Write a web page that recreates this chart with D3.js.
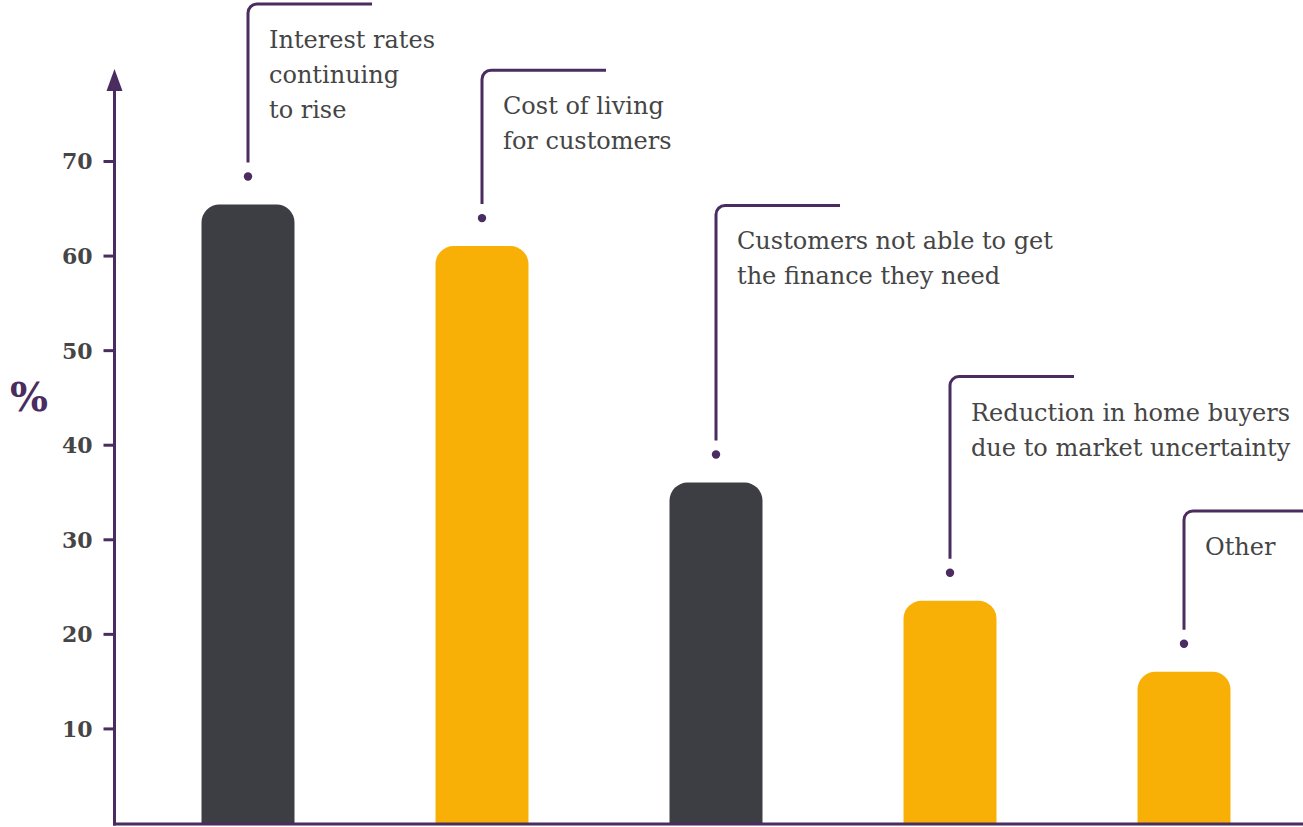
<!DOCTYPE html>
<html>
<head>
<meta charset="utf-8">
<script src="https://cdn.jsdelivr.net/npm/d3@7"></script>
<style>
  html, body { margin: 0; padding: 0; background: #ffffff; }
  svg { display: block; }
</style>
</head>
<body>
<svg id="chart" width="1303" height="827"></svg>
<script>
// Main concerns for the housing market (% of respondents)
const categories = [
  "Interest rates continuing to rise",
  "Cost of living for customers",
  "Customers not able to get the finance they need",
  "Reduction in home buyers due to market uncertainty",
  "Other"
];
const values = [65.4, 61, 36, 23.5, 16];
// Wrapped callout text for each bar
const labelLines = [
  ["Interest rates", "continuing", "to rise"],
  ["Cost of living", "for customers"],
  ["Customers not able to get", "the finance they need"],
  ["Reduction in home buyers", "due to market uncertainty"],
  ["Other"]
];
// Height (in % units) at which each callout's bracket turns right
const calloutLevels = [86.6, 79.6, 65.3, 47.2, 33.0];
const yTicks = [10, 20, 30, 40, 50, 60, 70];
const yLabel = "%";

const barColors = ["#3d3e43", "#f8b006", "#3d3e43", "#f8b006", "#f8b006"];
const purple = "#4a2c61";
const textColor = "#454545";

const W = 1303, H = 827;
const svg = d3.select("#chart");

const axisX = 114.5;
const baseY = 824;

const x = d3.scaleBand()
  .domain(categories)
  .range([131, 1301])
  .paddingInner(0.6026)
  .paddingOuter(0.3013);

const y = d3.scaleLinear()
  .domain([0, 70])
  .range([823, 161]);

// Bars with rounded tops
function topRoundedRect(x0, y0, w, h, r) {
  r = Math.min(r, w / 2, h);
  return `M${x0},${y0 + h}` +
    `V${y0 + r}` +
    `A${r},${r} 0 0 1 ${x0 + r},${y0}` +
    `H${x0 + w - r}` +
    `A${r},${r} 0 0 1 ${x0 + w},${y0 + r}` +
    `V${y0 + h}Z`;
}

svg.append("g").selectAll("path")
  .data(categories)
  .join("path")
  .attr("d", (c, i) => {
    const top = y(values[i]);
    return topRoundedRect(x(c), top, x.bandwidth(), baseY - top, 18);
  })
  .attr("fill", (c, i) => barColors[i]);

// Axes
const yAxis = d3.axisLeft(y)
  .tickValues(yTicks)
  .tickSize(11)
  .tickPadding(11)
  .tickFormat(d3.format("d"));

const gAxis = svg.append("g")
  .attr("transform", `translate(${axisX},0)`)
  .call(yAxis);
gAxis.select(".domain").remove();
gAxis.selectAll(".tick line")
  .attr("stroke", purple)
  .attr("stroke-width", 3);
gAxis.selectAll(".tick text")
  .attr("fill", textColor)
  .attr("font-family", "'DejaVu Serif', serif")
  .attr("font-weight", "bold")
  .attr("font-size", 22)
  .attr("dy", "0.36em");

// vertical axis line with arrowhead
svg.append("line")
  .attr("x1", axisX).attr("x2", axisX)
  .attr("y1", 88).attr("y2", baseY + 1.5)
  .attr("stroke", purple).attr("stroke-width", 3);
svg.append("path")
  .attr("d", `M${axisX},69 L${axisX - 8},91 L${axisX + 8},91 Z`)
  .attr("fill", purple);

// baseline
svg.append("line")
  .attr("x1", axisX - 1.5).attr("x2", W)
  .attr("y1", baseY).attr("y2", baseY)
  .attr("stroke", purple).attr("stroke-width", 3);

// y label
svg.append("text")
  .attr("x", 29).attr("y", 397)
  .attr("text-anchor", "middle")
  .attr("dy", "0.36em")
  .attr("fill", purple)
  .attr("font-family", "'DejaVu Serif', serif")
  .attr("font-weight", "bold")
  .attr("font-size", 40)
  .text(yLabel);

// Callouts: dot above each bar, bracket line, and wrapped label
const callouts = svg.append("g").selectAll("g")
  .data(categories)
  .join("g");

const dotGap = 28, lineGap = 14, cornerR = 9, armLen = 124;

callouts.append("circle")
  .attr("cx", c => x(c) + x.bandwidth() / 2)
  .attr("cy", (c, i) => y(values[i]) - dotGap)
  .attr("r", 4.2)
  .attr("fill", purple);

callouts.append("path")
  .attr("d", (c, i) => {
    const cx = x(c) + x.bandwidth() / 2;
    const bottom = y(values[i]) - dotGap - lineGap;
    const top = y(calloutLevels[i]);
    return `M${cx},${bottom} V${top + cornerR}` +
      ` A${cornerR},${cornerR} 0 0 1 ${cx + cornerR},${top}` +
      ` H${cx + armLen}`;
  })
  .attr("fill", "none")
  .attr("stroke", purple)
  .attr("stroke-width", 3);

callouts.append("text")
  .attr("fill", textColor)
  .attr("font-family", "'DejaVu Serif', serif")
  .attr("font-size", 24)
  .each(function (c, i) {
    const cx = x(c) + x.bandwidth() / 2;
    const top = y(calloutLevels[i]);
    d3.select(this).selectAll("tspan")
      .data(labelLines[i])
      .join("tspan")
      .attr("x", cx + 21)
      .attr("y", (t, k) => top + 44 + k * 35)
      .text(t => t);
  });
</script>
</body>
</html>
